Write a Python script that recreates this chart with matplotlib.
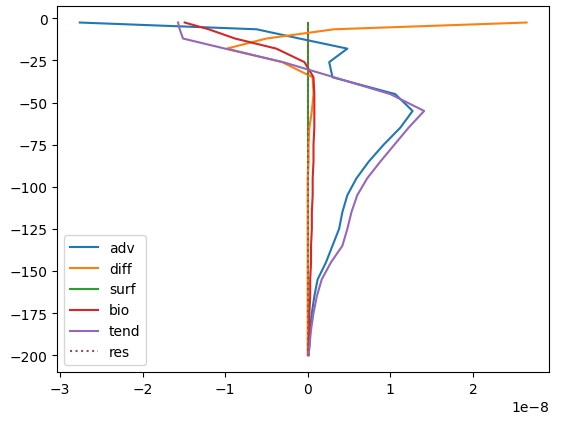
import numpy as np
import matplotlib.pyplot as plt

# depth levels (m)
z = [-2.5, -6.5, -12, -18, -26, -35, -45, -55, -65, -75, -85, -95, -105,
     -115, -125, -135, -145, -155, -165, -175, -185, -195, -200]

# budget terms (x 1e-8)
adv = [-2.76, -0.62, -0.1, 0.48, 0.26, 0.30, 1.06, 1.27, 1.12, 0.92, 0.74,
       0.59, 0.48, 0.42, 0.38, 0.30, 0.22, 0.12, 0.08, 0.05, 0.03, 0.02, 0.01]
diff = [2.65, 0.32, -0.50, -0.98, -0.31, 0.06, 0.07, 0.05, 0.02, 0.01, 0.01,
        0.0, 0.0, 0.0, 0.0, 0.0, 0.0, 0.0, 0.0, 0.0, 0.0, 0.0, 0.0]
surf = [0.0] * len(z)
bio = [-1.49, -1.2, -0.88, -0.38, -0.04, 0.07, 0.08, 0.08, 0.08, 0.07, 0.07,
       0.06, 0.06, 0.05, 0.05, 0.04, 0.04, 0.03, 0.03, 0.02, 0.02, 0.01, 0.01]
tend = [-1.57, -1.55, -1.51, -1.0, -0.3, 0.32, 1.0, 1.41, 1.22, 1.05, 0.88,
        0.72, 0.60, 0.53, 0.48, 0.42, 0.28, 0.17, 0.11, 0.07, 0.04, 0.02, 0.01]
res = [0.0] * len(z)

fig = plt.figure(figsize=(5.63, 4.31), dpi=100)
fig.subplots_adjust(left=0.102, right=0.975, top=0.984, bottom=0.135)
ax = fig.add_subplot(111)
for vals, name in [(adv, 'adv'), (diff, 'diff'), (surf, 'surf'),
                   (bio, 'bio'), (tend, 'tend')]:
    zo = 0.5 if name == 'surf' else 2
    ax.plot(np.array(vals) * 1e-8, z, label=name, zorder=zo)
ax.plot(np.array(res) * 1e-8, z, ':', label='res', zorder=3)
ax.legend(loc='lower left')
fig.savefig('out.png')
